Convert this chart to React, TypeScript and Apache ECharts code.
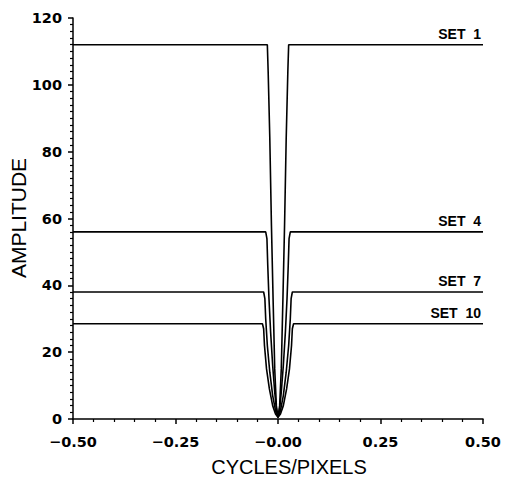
import React, { useEffect, useRef } from "react";
import * as echarts from "echarts";

const xTicks = [-0.5, -0.25, 0, 0.25, 0.5];
const yTicks = [0, 20, 40, 60, 80, 100, 120];

const xTitle = "CYCLES/PIXELS";
const yTitle = "AMPLITUDE";
const setNames = ["SET  1", "SET  4", "SET  7", "SET  10"];

const set1: number[][] = [
  [-0.5, 112], [-0.026, 112], [-0.024, 104], [-0.02, 84], [-0.016, 58], [-0.012, 36],
  [-0.008, 15], [-0.004, 4], [0, 0.5], [0.004, 4], [0.008, 15], [0.012, 36],
  [0.016, 58], [0.02, 84], [0.024, 104], [0.026, 112], [0.5, 112],
];
const set4: number[][] = [
  [-0.5, 56], [-0.03, 56], [-0.027, 54], [-0.025, 46], [-0.022, 36], [-0.018, 26],
  [-0.013, 16], [-0.008, 8], [-0.004, 3], [0, 0.5], [0.004, 3], [0.008, 8],
  [0.013, 16], [0.018, 26], [0.022, 36], [0.025, 46], [0.027, 54], [0.03, 56], [0.5, 56],
];
const set7: number[][] = [
  [-0.5, 38], [-0.035, 38], [-0.032, 36], [-0.03, 30], [-0.026, 22], [-0.02, 14],
  [-0.013, 7], [-0.006, 2.5], [0, 0.5], [0.006, 2.5], [0.013, 7], [0.02, 14],
  [0.026, 22], [0.03, 30], [0.032, 36], [0.035, 38], [0.5, 38],
];
const set10: number[][] = [
  [-0.5, 28.5], [-0.038, 28.5], [-0.035, 27], [-0.033, 22], [-0.028, 15], [-0.021, 9],
  [-0.013, 4], [-0.006, 1.5], [0, 0.5], [0.006, 1.5], [0.013, 4], [0.021, 9],
  [0.028, 15], [0.033, 22], [0.035, 27], [0.038, 28.5], [0.5, 28.5],
];

const allSets = [set1, set4, set7, set10];

const fmtX = (v: number) => {
  if (Math.abs(v) < 1e-9) return "\u22120.00";
  const s = Math.abs(v).toFixed(2);
  return v < 0 ? "\u2212" + s : s;
};

export default function App() {
  const ref = useRef<HTMLDivElement>(null);
  useEffect(() => {
    if (!ref.current) return;
    const chart = echarts.init(ref.current, null, { renderer: "svg" });
    const tickFont = {
      color: "#000",
      fontFamily: "DejaVu Sans",
      fontWeight: "bold" as const,
      fontSize: 14.5,
    };
    chart.setOption({
      animation: false,
      backgroundColor: "#fff",
      grid: { left: 73, right: 24, top: 18, bottom: 60 },
      graphic: [
        {
          type: "text",
          x: 289,
          y: 467,
          silent: true,
          style: {
            text: xTitle,
            fill: "#000",
            fontFamily: "Liberation Sans",
            fontSize: 20,
            align: "center",
            verticalAlign: "middle",
          },
        },
        {
          type: "text",
          x: 18,
          y: 218,
          rotation: Math.PI / 2,
          silent: true,
          style: {
            text: yTitle,
            fill: "#000",
            fontFamily: "Liberation Sans",
            fontSize: 21,
            align: "center",
            verticalAlign: "middle",
          },
        },
      ],
      xAxis: {
        type: "value",
        min: -0.5,
        max: 0.5,
        interval: 0.25,
        axisLine: { onZero: false, lineStyle: { color: "#000", width: 1.5 } },
        axisTick: { show: true, length: 5, lineStyle: { color: "#000", width: 1.5 } },
        minorTick: { show: true, splitNumber: 5, length: 3, lineStyle: { color: "#000", width: 1.2 } },
        splitLine: { show: false },
        axisLabel: { ...tickFont, margin: 15, formatter: (v: number) => fmtX(v) },
      },
      yAxis: {
        type: "value",
        min: 0,
        max: 120,
        interval: 20,
        axisLine: { show: true, onZero: false, lineStyle: { color: "#000", width: 1.5 } },
        axisTick: { show: true, length: 5, lineStyle: { color: "#000", width: 1.5 } },
        minorTick: { show: true, splitNumber: 10, length: 3, lineStyle: { color: "#000", width: 1.2 } },
        splitLine: { show: false },
        axisLabel: { ...tickFont, margin: 11 },
      },
      series: allSets.map((pts, i) => ({
        type: "line",
        symbol: "circle",
        symbolSize: 0,
        showSymbol: true,
        lineStyle: { color: "#000", width: 1.6 },
        itemStyle: { color: "#000" },
        label: { show: false },
        emphasis: { disabled: true },
        data: pts.map((p, j) =>
          j === pts.length - 1
            ? {
                value: p,
                label: {
                  show: true,
                  formatter: setNames[i],
                  position: "top",
                  align: "right",
                  distance: 4,
                  offset: [-2, 0],
                  color: "#000",
                  fontFamily: "Liberation Sans Narrow, Liberation Sans",
                  fontWeight: "bold",
                  fontSize: 14,
                },
              }
            : p
        ),
      })),
    });
    return () => chart.dispose();
  }, []);
  return (
    <div
      ref={ref}
      style={{ position: "fixed", left: 0, top: 0, width: 507, height: 479 }}
    />
  );
}
